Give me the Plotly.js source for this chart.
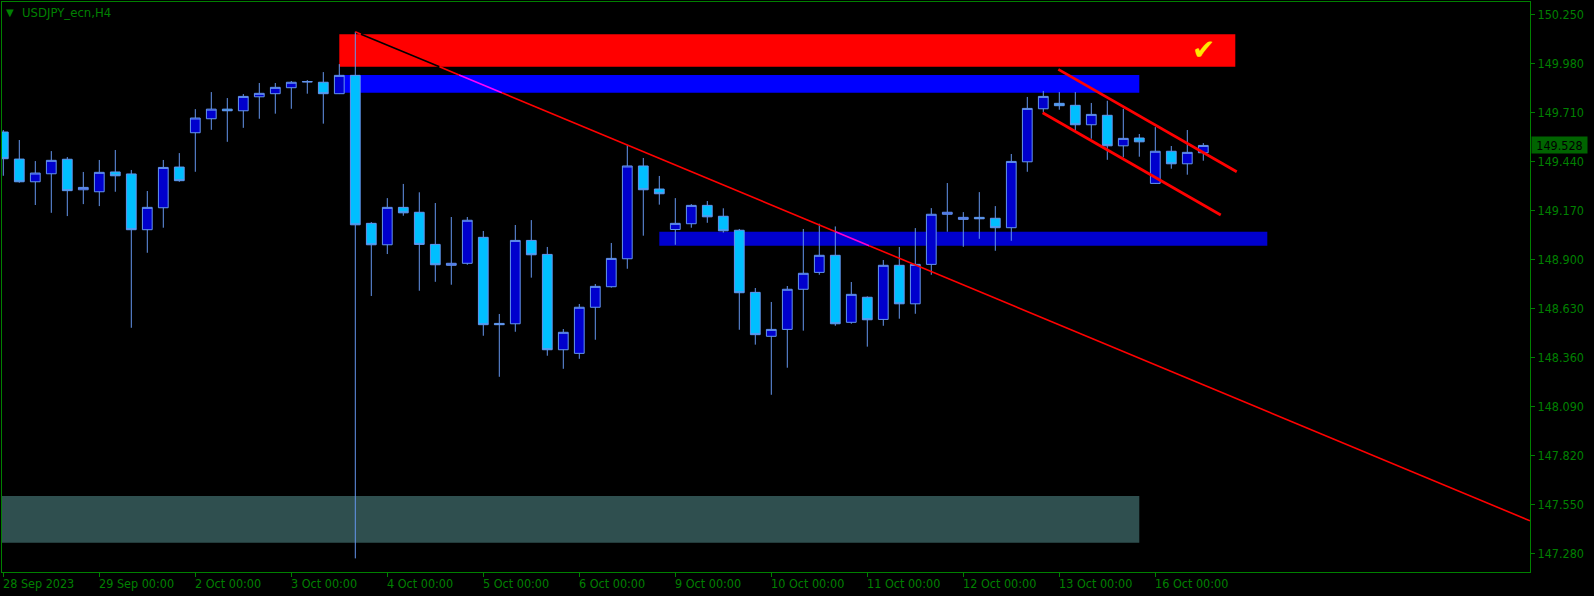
<!DOCTYPE html>
<html>
<head>
<meta charset="utf-8">
<script src="https://cdn.plot.ly/plotly-3.0.1.min.js"></script>
<style>
html,body{margin:0;padding:0;background:#000;}
#chart{width:1594px;height:596px;}
</style>
</head>
<body>
<div id="chart"></div>
<script>
// ---------------- DATA ----------------
const symbolTitle = 'USDJPY_ecn,H4';

// H4 bars, index 0 = 28 Sep 2023 00:00
const openP = [149.602,149.453,149.328,149.372,149.452,149.284,149.273,149.382,149.371,149.064,149.185,149.409,
  149.598,149.675,149.728,149.719,149.796,149.813,149.846,149.877,149.876,149.813,149.914,149.099,
  148.981,149.187,149.160,148.983,148.868,148.879,149.022,148.548,148.546,149.005,148.928,148.403,
  148.383,148.637,148.750,148.904,149.415,149.288,149.065,149.097,149.198,149.138,149.061,148.719,
  148.477,148.515,148.736,148.829,148.923,148.554,148.692,148.570,148.868,148.656,148.873,149.149,
  149.121,149.132,149.127,149.075,149.438,149.730,149.760,149.749,149.642,149.694,149.526,149.569,
  149.319,149.496,149.427,149.488];
const highP = [149.613,149.558,149.442,149.497,149.464,149.382,149.448,149.503,149.393,149.277,149.448,149.486,
  149.728,149.822,149.789,149.811,149.872,149.872,149.883,149.888,149.932,149.976,150.154,149.106,
  149.238,149.316,149.270,149.211,149.134,149.134,149.057,148.600,149.090,149.117,148.969,148.517,
  148.655,148.765,148.991,149.530,149.459,149.360,149.238,149.205,149.222,149.182,149.068,148.743,
  148.666,148.754,149.068,149.097,149.082,148.776,148.697,148.897,148.969,149.073,149.183,149.321,
  149.161,149.271,149.194,149.481,149.795,149.828,149.822,149.822,149.762,149.774,149.730,149.591,
  149.629,149.525,149.613,149.541];
const lowP = [149.361,149.323,149.200,149.157,149.139,149.205,149.194,149.273,148.524,148.937,149.075,149.328,
  149.383,149.614,149.548,149.625,149.675,149.703,149.730,149.813,149.648,149.811,147.254,148.699,
  148.930,149.141,148.728,148.777,148.761,148.871,148.480,148.254,148.502,148.800,148.370,148.298,
  148.353,148.458,148.745,148.849,149.031,149.202,148.981,149.075,149.102,149.048,148.513,148.431,
  148.155,148.304,148.508,148.816,148.535,148.546,148.420,148.535,148.574,148.601,148.816,149.053,
  148.970,149.014,148.948,149.003,149.383,149.710,149.725,149.613,149.565,149.449,149.463,149.466,
  149.316,149.400,149.367,149.444];
const closeP = [149.455,149.328,149.376,149.446,149.279,149.297,149.380,149.361,149.064,149.187,149.407,149.334,
  149.679,149.728,149.719,149.798,149.815,149.848,149.876,149.880,149.813,149.914,149.091,148.981,
  149.187,149.157,148.983,148.871,148.879,149.116,148.541,148.541,149.005,148.926,148.403,148.499,
  148.637,148.752,148.906,149.415,149.284,149.262,149.099,149.198,149.135,149.058,148.717,148.486,
  148.515,148.736,148.824,148.923,148.546,148.708,148.568,148.868,148.656,148.873,149.149,149.160,
  149.132,149.124,149.075,149.440,149.732,149.798,149.747,149.642,149.699,149.526,149.567,149.548,
  149.496,149.427,149.490,149.528];
const lastPrice = 149.528;

// time-axis labels (bar index where each day starts)
const dayTickBars = [0,6,12,18,24,30,36,42,48,54,60,66,72];
const dayTickLabels = ['28 Sep 2023','29 Sep 00:00','2 Oct 00:00','3 Oct 00:00','4 Oct 00:00','5 Oct 00:00',
  '6 Oct 00:00','9 Oct 00:00','10 Oct 00:00','11 Oct 00:00','12 Oct 00:00','13 Oct 00:00','16 Oct 00:00'];

// price-axis ticks
const priceTicks = [147.280,147.550,147.820,148.090,148.360,148.630,148.900,149.170,149.440,149.710,149.980,150.250];

// rectangle zones (bar index from/to, price top/bottom, colour)
const zoneFrom   = [21, 21, 41, -6];
const zoneTo     = [77, 71, 79, 71];
const zoneTop    = [150.141, 149.916, 149.053, 147.597];
const zoneBottom = [149.961, 149.818, 148.976, 147.340];
const zoneColor  = ['#FF0000', '#0000FF', '#0000CD', '#2F4F4F'];

// trend line (ray) and descending channel: [bar index], [price]
const trendBars   = [22, 95.42];
const trendPrices = [150.154, 147.461];
const chanUpBars   = [65.94, 77.09];
const chanUpPrices = [149.947, 149.383];
const chanLoBars   = [64.96, 76.09];
const chanLoPrices = [149.708, 149.145];

// check mark object
const checkBar = 75.0, checkPrice = 150.059;

// ---------------- BUILD ----------------
const barIdx = openP.map((_, i) => i);
const GREEN = '#008000';
const FONT = 'DejaVu Sans Condensed, DejaVu Sans, sans-serif';

const traces = [];
traces.push({
  type: 'candlestick',
  x: barIdx, open: openP, high: highP, low: lowP, close: closeP,
  increasing: {line: {color: '#6495ED', width: 1}, fillcolor: '#0000CD'},
  decreasing: {line: {color: '#6495ED', width: 1}, fillcolor: '#00BFFF'},
  whiskerwidth: 0,
  hoverinfo: 'skip'
});

function hexToRgb(h){ h=h.replace('#',''); return [parseInt(h.substr(0,2),16),parseInt(h.substr(2,2),16),parseInt(h.substr(4,2),16)]; }
function xorColor(a,b){ const A=hexToRgb(a),B=hexToRgb(b); return 'rgb('+(A[0]^B[0])+','+(A[1]^B[1])+','+(A[2]^B[2])+')'; }

// trend line drawn in XOR mode against the zones it crosses
(function(){
  const base = '#FF0000';
  const x0=trendBars[0], x1=trendBars[1], y0=trendPrices[0], y1=trendPrices[1];
  const slope=(y1-y0)/(x1-x0);
  const yAt = x => y0 + slope*(x-x0);
  const xAt = y => x0 + (y-y0)/slope;
  const bps=[x0,x1];
  for(let k=0;k<zoneFrom.length;k++){
    [zoneFrom[k],zoneTo[k]].forEach(v=>{ if(v>x0&&v<x1) bps.push(v); });
    [zoneTop[k],zoneBottom[k]].forEach(p=>{ const v=xAt(p); if(v>x0&&v<x1) bps.push(v); });
  }
  bps.sort((a,b)=>a-b);
  const segs=[];
  for(let i=0;i<bps.length-1;i++){
    const a=bps[i], b=bps[i+1]; if(b-a<1e-9) continue;
    const xm=(a+b)/2, ym=yAt(xm);
    let col=base;
    for(let k=0;k<zoneFrom.length;k++){
      if(xm>=zoneFrom[k]&&xm<=zoneTo[k]&&ym<=zoneTop[k]&&ym>=zoneBottom[k]) col=xorColor(base,zoneColor[k]);
    }
    if(segs.length && segs[segs.length-1].col===col) segs[segs.length-1].b=b;
    else segs.push({a,b,col});
  }
  segs.forEach(s=>{
    traces.push({type:'scatter', mode:'lines', x:[s.a,s.b], y:[yAt(s.a),yAt(s.b)],
      line:{color:s.col, width:1.6}, hoverinfo:'skip', cliponaxis:true});
  });
})();

traces.push({type:'scatter', mode:'lines', x:chanUpBars, y:chanUpPrices, line:{color:'#FF0000', width:2.8}, hoverinfo:'skip'});
traces.push({type:'scatter', mode:'lines', x:chanLoBars, y:chanLoPrices, line:{color:'#FF0000', width:2.8}, hoverinfo:'skip'});

const shapes = zoneFrom.map((f,k)=>({type:'rect', xref:'x', yref:'y', x0:f, x1:zoneTo[k],
  y0:zoneBottom[k], y1:zoneTop[k], fillcolor:zoneColor[k], line:{width:0}, layer:'below'}));

const annotations = [];
dayTickBars.forEach((b,i)=>{
  annotations.push({xref:'x', yref:'paper', x:b, y:0, xanchor:'left', yanchor:'top', xshift:-2, yshift:-2,
    text:dayTickLabels[i], showarrow:false, font:{family:FONT, size:12.5, color:GREEN}});
});
annotations.push({xref:'paper', yref:'y', x:1, y:lastPrice, xanchor:'left', yanchor:'middle', xshift:1,
  text:lastPrice.toFixed(3), showarrow:false, bgcolor:'#006400', width:55, height:16, borderpad:0,
  font:{family:FONT, size:12.5, color:'#000000'}});
annotations.push({xref:'paper', yref:'paper', x:0.0054, y:0.981, xanchor:'center', yanchor:'middle',
  text:'▼', showarrow:false, font:{family:'DejaVu Sans', size:10, color:GREEN}});
annotations.push({xref:'paper', yref:'paper', x:0.0118, y:0.9812, xanchor:'left', yanchor:'middle',
  text:symbolTitle, showarrow:false, font:{family:FONT, size:13, color:GREEN}});
annotations.push({xref:'x', yref:'y', x:checkBar, y:checkPrice, xanchor:'center', yanchor:'middle',
  text:'✔', showarrow:false, font:{family:'DejaVu Sans', size:28, color:'#FFE800'}});

const layout = {
  width:1594, height:596,
  margin:{l:2, r:64, t:2, b:24, pad:0},
  paper_bgcolor:'#000000', plot_bgcolor:'#000000',
  showlegend:false, hovermode:false,
  boxgap:0.39, boxgroupgap:0,
  xaxis:{range:[-0.08125, 95.419], type:'linear', showgrid:false, zeroline:false,
    showline:true, mirror:true, linecolor:GREEN, linewidth:1,
    ticks:'outside', ticklen:4, tickcolor:GREEN, tickmode:'array', tickvals:dayTickBars,
    showticklabels:false, rangeslider:{visible:false}, fixedrange:true},
  yaxis:{side:'right', range:[147.179, 150.318], showgrid:false, zeroline:false,
    showline:true, mirror:true, linecolor:GREEN, linewidth:1,
    ticks:'outside', ticklen:4, tickcolor:GREEN, tickmode:'array', tickvals:priceTicks,
    ticktext:priceTicks.map(v=>v.toFixed(3)), tickfont:{family:FONT, size:12.5, color:GREEN}, fixedrange:true},
  shapes:shapes,
  annotations:annotations
};

Plotly.newPlot('chart', traces, layout, {staticPlot:true, displayModeBar:false});
</script>
</body>
</html>
